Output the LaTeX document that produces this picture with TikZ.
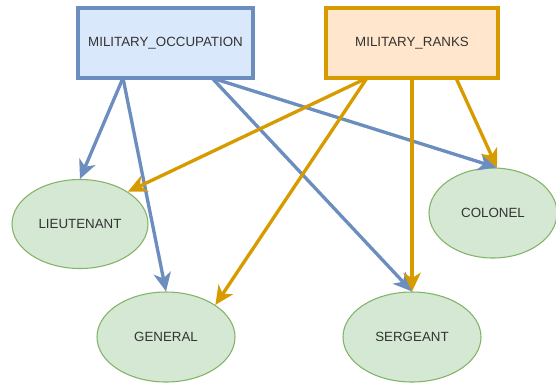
\documentclass[tikz,border=0pt]{standalone}
\usepackage{fontspec}
\setmainfont{Liberation Sans}
\usetikzlibrary{arrows.meta,shapes.geometric}

\definecolor{blueFill}{HTML}{DAE8FC}
\definecolor{blueLine}{HTML}{6C8EBF}
\definecolor{orangeFill}{HTML}{FFE6CC}
\definecolor{orangeLine}{HTML}{D79B00}
\definecolor{greenFill}{HTML}{D5E8D4}
\definecolor{greenLine}{HTML}{82B366}

\tikzset{
  every node/.style={font=\fontsize{10}{12}\selectfont, text=black!80},
  tablebox/.style={rectangle, draw, line width=2.5pt, inner sep=0pt},
  occbox/.style={tablebox, fill=blueFill, draw=blueLine},
  rankbox/.style={tablebox, fill=orangeFill, draw=orangeLine},
  rankleaf/.style={ellipse, draw=greenLine, fill=greenFill, line width=0.8pt, inner sep=0pt},
  link/.style={line width=2.5pt, -{Stealth[length=14pt, width=13pt, inset=4pt]}},
  occlink/.style={link, draw=blueLine},
  ranklink/.style={link, draw=orangeLine},
}

\begin{document}
\begin{tikzpicture}[x=0.75pt, y=-0.75pt]
  \useasboundingbox (0,0) rectangle (556,383);

  % source tables
  \node[occbox, minimum width=131.25pt, minimum height=52.5pt] (mo) at (165.5,43) {MILITARY\_OCCUPATION};
  \node[rankbox, minimum width=129pt, minimum height=52.5pt] (mr) at (412,43) {MILITARY\_RANKS};

  % rank values
  \node[rankleaf, minimum width=102pt, minimum height=66.75pt] (lt) at (80,224) {LIEUTENANT};
  \node[rankleaf, minimum width=103.5pt, minimum height=67.5pt] (gn) at (166,337) {GENERAL};
  \node[rankleaf, minimum width=103.5pt, minimum height=67.5pt] (sg) at (412,337) {SERGEANT};
  \node[rankleaf, minimum width=96pt, minimum height=67.5pt] (cl) at (493,213) {COLONEL};

  % edge origins on the box bottoms
  \coordinate (moL) at (123,78);
  \coordinate (moR) at (212,78);
  \coordinate (mrL) at (367,78);
  \coordinate (mrM) at (412,78);
  \coordinate (mrR) at (456,78);

  % occupation links
  \draw[occlink] (moL) -- (lt.north);
  \draw[occlink] (moL) -- (gn.north);
  \draw[occlink] (moR) -- (sg.north);
  \draw[occlink] (moR) -- (cl.85);

  % rank links
  \draw[ranklink] (mrL) -- (lt.34);
  \draw[ranklink] (mrL) -- (gn.33);
  \draw[ranklink] (mrM) -- (sg.north);
  \draw[ranklink] (mrR) -- (cl.85);
\end{tikzpicture}
\end{document}
